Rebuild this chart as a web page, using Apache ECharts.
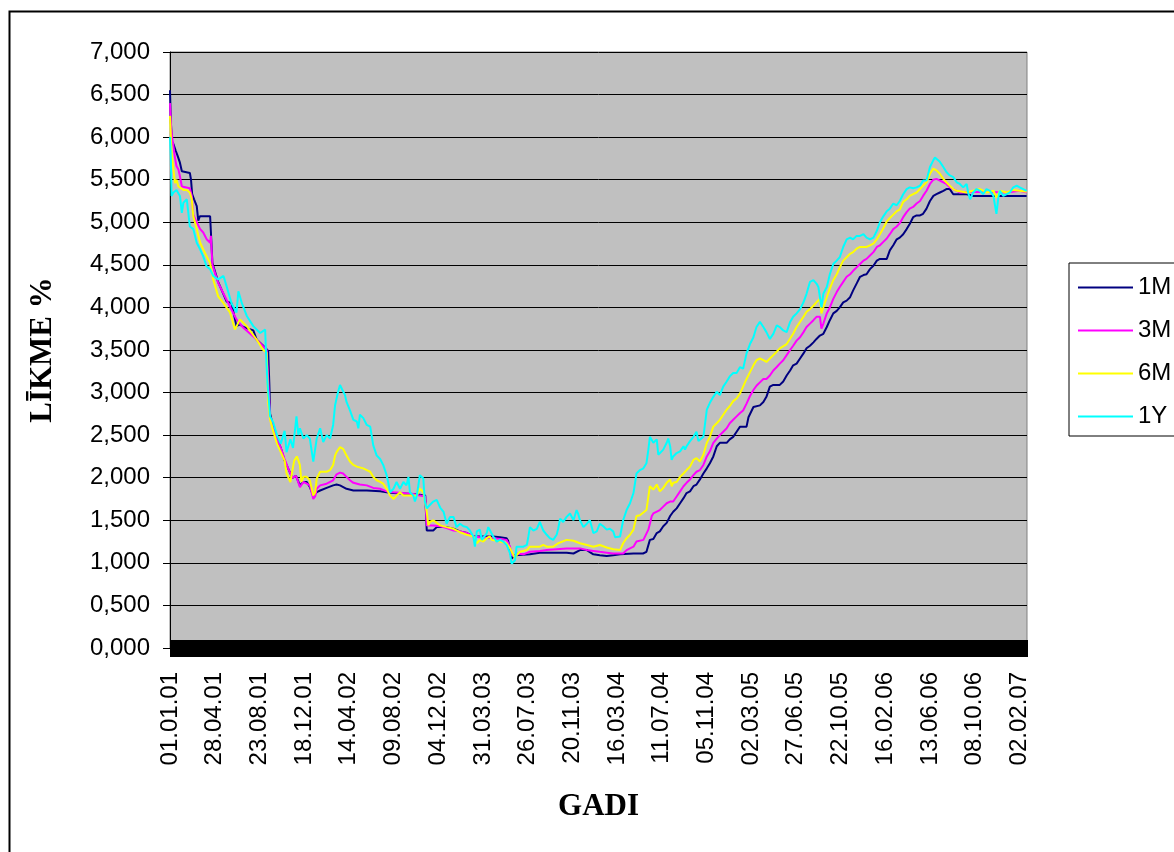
<!DOCTYPE html>
<html>
<head>
<meta charset="utf-8">
<script src="https://cdn.jsdelivr.net/npm/echarts@6/dist/echarts.min.js"></script>
<style>
  html, body { margin: 0; padding: 0; background: #fff; }
  #chart { width: 1174px; height: 852px; }
</style>
</head>
<body>
<div id="chart"></div>
<script>
// Money-market rates, % per year. Each point is [days since 01.01.2001, rate].
const rate1M = [[0,6.55],[2,6.20],[5,5.95],[9,5.92],[15,5.84],[20,5.78],[26,5.70],[31,5.60],[35,5.59],[52,5.58],[55,5.50],[58,5.33],[63,5.27],[70,5.19],[74,5.02],[78,5.07],[105,5.07],[108,4.80],[111,4.52],[126,4.30],[148,4.07],[161,4.05],[174,3.78],[183,3.80],[192,3.77],[218,3.73],[227,3.62],[244,3.55],[257,3.49],[260,3.10],[262,2.75],[270,2.60],[280,2.45],[290,2.35],[300,2.20],[310,2.10],[320,2.00],[330,2.02],[340,1.91],[349,1.95],[358,1.95],[366,1.89],[375,1.79],[384,1.83],[393,1.85],[410,1.88],[427,1.91],[436,1.92],[445,1.91],[462,1.87],[480,1.85],[515,1.85],[550,1.84],[567,1.83],[585,1.82],[637,1.81],[668,1.79],[672,1.38],[689,1.38],[698,1.42],[724,1.42],[742,1.40],[759,1.37],[777,1.35],[794,1.31],[846,1.31],[864,1.30],[881,1.29],[885,1.26],[890,1.15],[894,1.05],[903,1.09],[907,1.09],[942,1.10],[968,1.12],[1003,1.12],[1038,1.12],[1056,1.11],[1073,1.15],[1091,1.15],[1108,1.10],[1125,1.09],[1143,1.08],[1160,1.09],[1178,1.10],[1213,1.11],[1238,1.11],[1247,1.13],[1256,1.27],[1265,1.28],[1274,1.35],[1282,1.37],[1291,1.43],[1300,1.47],[1309,1.55],[1317,1.60],[1326,1.64],[1335,1.70],[1344,1.76],[1352,1.82],[1361,1.84],[1370,1.90],[1378,1.92],[1387,1.98],[1396,2.05],[1405,2.11],[1413,2.17],[1422,2.25],[1431,2.37],[1439,2.41],[1457,2.41],[1465,2.45],[1474,2.48],[1483,2.54],[1492,2.60],[1509,2.60],[1514,2.71],[1527,2.83],[1544,2.85],[1553,2.89],[1561,2.95],[1570,3.07],[1579,3.09],[1596,3.09],[1605,3.13],[1614,3.20],[1623,3.26],[1631,3.32],[1640,3.34],[1649,3.40],[1658,3.46],[1666,3.52],[1675,3.55],[1684,3.59],[1692,3.63],[1701,3.67],[1710,3.69],[1719,3.77],[1727,3.85],[1736,3.93],[1745,3.96],[1753,4.00],[1762,4.06],[1771,4.08],[1780,4.12],[1788,4.20],[1797,4.28],[1806,4.36],[1815,4.38],[1823,4.39],[1832,4.45],[1841,4.49],[1850,4.55],[1858,4.57],[1876,4.57],[1884,4.67],[1893,4.73],[1902,4.80],[1910,4.82],[1919,4.86],[1928,4.92],[1936,4.98],[1945,5.06],[1954,5.08],[1963,5.08],[1971,5.10],[1980,5.16],[1989,5.25],[1998,5.31],[2006,5.33],[2015,5.35],[2024,5.37],[2032,5.39],[2037,5.41],[2041,5.39],[2050,5.33],[2054,5.31],[2059,5.33],[2085,5.33],[2102,5.31],[2242,5.31]];

const rate3M = [[0,6.40],[3,6.10],[7,5.95],[13,5.76],[17,5.66],[22,5.62],[26,5.54],[31,5.42],[35,5.40],[52,5.40],[57,5.31],[61,5.09],[70,5.00],[79,4.92],[87,4.88],[96,4.80],[105,4.76],[107,4.84],[111,4.50],[126,4.29],[148,4.09],[174,3.86],[192,3.76],[218,3.66],[236,3.58],[253,3.50],[257,3.15],[262,2.70],[270,2.58],[280,2.45],[290,2.35],[300,2.22],[310,2.10],[320,2.00],[330,2.02],[340,1.89],[349,1.95],[358,1.93],[366,1.91],[375,1.75],[380,1.78],[384,1.87],[393,1.91],[410,1.93],[427,1.97],[436,2.04],[445,2.06],[453,2.05],[462,2.01],[471,1.97],[480,1.94],[497,1.92],[515,1.91],[532,1.88],[550,1.87],[567,1.84],[585,1.83],[637,1.81],[654,1.79],[668,1.78],[672,1.44],[689,1.44],[707,1.43],[724,1.41],[742,1.38],[759,1.37],[777,1.35],[794,1.31],[811,1.30],[846,1.29],[864,1.28],[881,1.27],[890,1.19],[894,1.09],[903,1.08],[907,1.11],[925,1.10],[942,1.13],[968,1.14],[986,1.15],[1012,1.16],[1038,1.17],[1073,1.17],[1091,1.15],[1108,1.14],[1125,1.13],[1143,1.12],[1160,1.11],[1186,1.11],[1195,1.15],[1213,1.19],[1221,1.25],[1239,1.27],[1252,1.39],[1261,1.55],[1265,1.58],[1282,1.62],[1291,1.66],[1300,1.70],[1309,1.72],[1317,1.72],[1326,1.78],[1335,1.84],[1344,1.90],[1352,1.94],[1361,1.98],[1370,2.03],[1378,2.07],[1387,2.09],[1396,2.15],[1405,2.25],[1413,2.31],[1422,2.41],[1431,2.46],[1439,2.50],[1448,2.54],[1457,2.58],[1465,2.64],[1474,2.68],[1483,2.72],[1492,2.76],[1500,2.79],[1509,2.87],[1518,2.96],[1527,3.03],[1535,3.08],[1544,3.12],[1553,3.16],[1561,3.16],[1570,3.20],[1579,3.26],[1588,3.30],[1596,3.34],[1605,3.38],[1614,3.44],[1623,3.50],[1631,3.55],[1640,3.61],[1649,3.65],[1658,3.71],[1666,3.77],[1675,3.81],[1684,3.85],[1692,3.89],[1701,3.89],[1705,3.75],[1710,3.81],[1719,3.93],[1727,4.00],[1736,4.10],[1745,4.18],[1753,4.24],[1762,4.30],[1771,4.36],[1780,4.39],[1788,4.43],[1797,4.47],[1806,4.51],[1815,4.55],[1823,4.57],[1832,4.61],[1841,4.65],[1850,4.71],[1858,4.73],[1867,4.77],[1876,4.81],[1884,4.86],[1893,4.92],[1902,4.95],[1910,4.99],[1919,5.06],[1928,5.12],[1936,5.16],[1945,5.18],[1954,5.22],[1963,5.25],[1971,5.31],[1980,5.37],[1989,5.45],[1998,5.50],[2006,5.51],[2015,5.49],[2024,5.47],[2032,5.45],[2041,5.41],[2050,5.39],[2059,5.37],[2067,5.35],[2120,5.36],[2190,5.35],[2224,5.37],[2242,5.35]];

const rate6M = [[0,6.25],[4,5.82],[9,5.62],[13,5.46],[17,5.50],[22,5.42],[35,5.38],[44,5.38],[52,5.35],[57,5.27],[61,5.07],[70,4.92],[79,4.76],[87,4.68],[96,4.60],[105,4.52],[113,4.33],[126,4.13],[140,4.05],[157,3.94],[170,3.74],[183,3.86],[201,3.78],[227,3.62],[244,3.50],[253,3.47],[257,2.88],[262,2.68],[270,2.55],[280,2.40],[290,2.30],[300,2.20],[305,2.05],[315,1.95],[325,2.20],[332,2.25],[340,2.15],[344,1.95],[349,2.01],[358,2.01],[366,1.97],[375,1.79],[380,1.83],[384,1.99],[393,2.07],[410,2.07],[419,2.09],[427,2.15],[432,2.26],[436,2.30],[445,2.36],[449,2.38],[453,2.34],[462,2.26],[471,2.19],[480,2.15],[489,2.13],[506,2.11],[515,2.09],[524,2.07],[532,2.01],[541,1.97],[550,1.95],[558,1.93],[567,1.87],[576,1.79],[585,1.75],[593,1.79],[602,1.83],[611,1.79],[646,1.79],[654,1.87],[663,1.83],[672,1.60],[676,1.44],[680,1.48],[689,1.50],[707,1.44],[724,1.42],[742,1.40],[759,1.36],[777,1.33],[794,1.31],[803,1.23],[811,1.27],[820,1.25],[829,1.29],[837,1.31],[842,1.27],[864,1.25],[881,1.23],[890,1.17],[899,1.09],[903,1.05],[907,1.09],[916,1.13],[934,1.15],[942,1.19],[968,1.19],[977,1.21],[986,1.19],[1003,1.19],[1016,1.23],[1021,1.25],[1038,1.27],[1056,1.26],[1073,1.23],[1091,1.21],[1108,1.19],[1125,1.21],[1143,1.18],[1160,1.16],[1178,1.15],[1186,1.23],[1195,1.29],[1204,1.33],[1213,1.39],[1221,1.55],[1230,1.56],[1247,1.62],[1256,1.90],[1265,1.86],[1274,1.92],[1282,1.84],[1291,1.88],[1300,1.94],[1309,1.98],[1313,1.90],[1317,1.94],[1326,1.95],[1335,2.01],[1344,2.05],[1352,2.09],[1361,2.13],[1370,2.21],[1378,2.23],[1387,2.19],[1396,2.27],[1405,2.41],[1413,2.48],[1422,2.60],[1431,2.64],[1439,2.68],[1448,2.74],[1457,2.80],[1465,2.84],[1474,2.90],[1483,2.93],[1492,2.99],[1500,3.07],[1509,3.16],[1518,3.24],[1527,3.32],[1535,3.38],[1544,3.40],[1553,3.38],[1561,3.36],[1570,3.40],[1579,3.44],[1588,3.48],[1596,3.52],[1614,3.57],[1631,3.69],[1640,3.77],[1649,3.83],[1658,3.89],[1666,3.95],[1675,3.98],[1684,4.02],[1692,4.06],[1701,4.10],[1705,3.93],[1710,4.00],[1719,4.12],[1727,4.22],[1736,4.32],[1745,4.39],[1753,4.47],[1762,4.55],[1771,4.59],[1780,4.63],[1788,4.65],[1797,4.69],[1806,4.71],[1823,4.71],[1832,4.73],[1841,4.75],[1850,4.80],[1858,4.86],[1867,4.93],[1876,5.01],[1884,5.05],[1893,5.09],[1902,5.13],[1910,5.15],[1919,5.24],[1928,5.27],[1936,5.31],[1945,5.33],[1954,5.35],[1963,5.39],[1971,5.43],[1980,5.47],[1989,5.57],[1998,5.63],[2006,5.61],[2015,5.57],[2024,5.51],[2032,5.47],[2041,5.43],[2050,5.39],[2059,5.37],[2085,5.35],[2102,5.37],[2120,5.39],[2137,5.35],[2155,5.37],[2163,5.29],[2172,5.37],[2190,5.35],[2207,5.38],[2224,5.37],[2242,5.36]];

const rate1Y = [[0,6.00],[2,5.78],[4,5.31],[9,5.35],[17,5.38],[26,5.31],[31,5.11],[35,5.23],[44,5.27],[52,4.95],[61,4.92],[70,4.76],[79,4.68],[87,4.60],[96,4.48],[105,4.45],[113,4.37],[126,4.33],[140,4.37],[148,4.25],[161,4.05],[174,3.94],[179,4.19],[188,4.05],[201,3.90],[218,3.78],[236,3.70],[249,3.74],[251,3.50],[255,3.12],[262,2.72],[270,2.65],[280,2.50],[290,2.40],[300,2.55],[305,2.30],[315,2.45],[322,2.35],[331,2.72],[336,2.50],[340,2.58],[349,2.46],[358,2.50],[366,2.46],[375,2.19],[380,2.17],[384,2.46],[393,2.58],[397,2.56],[401,2.42],[410,2.50],[419,2.46],[427,2.62],[432,2.85],[436,2.93],[440,3.01],[445,3.09],[449,3.05],[453,3.07],[458,2.97],[462,2.89],[471,2.79],[480,2.68],[489,2.66],[493,2.58],[497,2.74],[506,2.70],[515,2.62],[524,2.60],[532,2.38],[541,2.26],[550,2.22],[558,2.15],[567,2.03],[571,1.95],[576,1.83],[585,1.87],[593,1.95],[602,1.87],[611,1.95],[619,1.91],[624,2.01],[628,1.83],[637,1.79],[641,1.72],[646,1.79],[654,2.03],[663,1.99],[667,1.72],[672,1.64],[680,1.68],[689,1.72],[698,1.74],[707,1.65],[716,1.60],[724,1.46],[733,1.54],[742,1.54],[750,1.42],[759,1.46],[768,1.43],[777,1.42],[785,1.38],[794,1.31],[798,1.19],[803,1.37],[811,1.39],[816,1.27],[820,1.29],[829,1.35],[833,1.42],[837,1.41],[846,1.31],[855,1.25],[864,1.27],[872,1.25],[881,1.21],[890,1.11],[894,0.99],[899,0.97],[903,1.03],[907,1.19],[925,1.19],[934,1.21],[938,1.31],[942,1.42],[951,1.38],[960,1.40],[968,1.48],[977,1.38],[986,1.33],[994,1.29],[1003,1.27],[1012,1.33],[1016,1.40],[1021,1.52],[1029,1.48],[1038,1.54],[1047,1.58],[1056,1.50],[1060,1.56],[1064,1.62],[1068,1.58],[1073,1.50],[1082,1.42],[1091,1.46],[1099,1.50],[1108,1.35],[1117,1.37],[1125,1.46],[1134,1.43],[1143,1.39],[1151,1.40],[1160,1.37],[1165,1.30],[1178,1.31],[1182,1.33],[1186,1.50],[1195,1.62],[1204,1.70],[1213,1.82],[1221,2.05],[1230,2.09],[1239,2.11],[1247,2.17],[1252,2.33],[1256,2.48],[1265,2.41],[1274,2.45],[1278,2.27],[1282,2.25],[1291,2.33],[1300,2.41],[1304,2.46],[1309,2.37],[1313,2.21],[1317,2.25],[1326,2.29],[1335,2.31],[1344,2.37],[1348,2.33],[1352,2.37],[1361,2.43],[1370,2.48],[1378,2.54],[1383,2.43],[1387,2.43],[1396,2.48],[1405,2.80],[1413,2.88],[1422,2.95],[1431,3.01],[1439,2.97],[1448,3.07],[1457,3.13],[1465,3.19],[1474,3.23],[1483,3.23],[1492,3.30],[1500,3.28],[1509,3.46],[1518,3.57],[1527,3.65],[1535,3.77],[1544,3.83],[1549,3.85],[1553,3.77],[1561,3.71],[1570,3.63],[1579,3.69],[1588,3.79],[1596,3.77],[1605,3.73],[1614,3.71],[1623,3.83],[1631,3.89],[1640,3.93],[1649,3.98],[1658,4.06],[1666,4.16],[1675,4.30],[1684,4.32],[1692,4.28],[1697,4.24],[1701,4.12],[1705,4.00],[1710,4.16],[1719,4.24],[1727,4.39],[1736,4.51],[1745,4.55],[1753,4.59],[1762,4.71],[1771,4.80],[1780,4.82],[1788,4.80],[1797,4.84],[1806,4.84],[1815,4.86],[1823,4.82],[1832,4.80],[1841,4.82],[1850,4.90],[1858,5.00],[1867,5.07],[1876,5.13],[1884,5.16],[1893,5.22],[1902,5.20],[1910,5.25],[1919,5.33],[1928,5.39],[1936,5.41],[1945,5.40],[1954,5.41],[1963,5.43],[1971,5.49],[1980,5.49],[1989,5.65],[1998,5.73],[2002,5.76],[2006,5.75],[2015,5.71],[2024,5.65],[2032,5.59],[2041,5.55],[2050,5.53],[2059,5.47],[2067,5.45],[2076,5.41],[2085,5.45],[2089,5.35],[2094,5.27],[2102,5.35],[2111,5.39],[2120,5.37],[2128,5.33],[2137,5.39],[2146,5.37],[2155,5.31],[2163,5.10],[2168,5.29],[2172,5.37],[2181,5.31],[2190,5.33],[2198,5.35],[2207,5.41],[2216,5.43],[2224,5.41],[2233,5.39],[2242,5.37]];

const seriesNames = ['1M', '3M', '6M', '1Y'];
const seriesColors = ['#000080', '#FF00FF', '#FFFF00', '#00FFFF'];
const seriesData = [rate1M, rate3M, rate6M, rate1Y];

// Daily date axis: 01.01.2001 .. 20.02.2007, a date label every 117 days,
// a tick mark on every day.
const FIRST_DAY = Date.UTC(2001, 0, 1);
const DAY_COUNT = 2243;
const LABEL_STEP = 117;

const yTitle = 'LĪKME %';
const xTitle = 'GADI';

function dateLabel(day) {
  const t = new Date(FIRST_DAY + day * 86400000);
  const p = n => String(n).padStart(2, '0');
  return p(t.getUTCDate()) + '.' + p(t.getUTCMonth() + 1) + '.' + p(t.getUTCFullYear() % 100);
}

const sans = 'Arial, "Liberation Sans", sans-serif';
const serif = '"Times New Roman", "Liberation Serif", serif';

const chart = echarts.init(document.getElementById('chart'), null, { renderer: 'canvas' });

// Extra axes that only carry the daily tick marks, crossing the axis line.
function dailyTickAxis(inside, length) {
  return {
    type: 'value',
    position: 'bottom',
    min: 0,
    max: DAY_COUNT,
    interval: 1,
    axisLine: { show: false },
    axisTick: { show: true, inside: inside, length: length, lineStyle: { color: '#000', width: 1 } },
    axisLabel: { show: false },
    splitLine: { show: false }
  };
}

chart.setOption({
  animation: false,
  backgroundColor: '#ffffff',
  textStyle: { fontFamily: sans },
  graphic: [{
    type: 'rect',
    left: 7, top: 9,
    shape: { width: 1300, height: 1000 },
    style: { fill: 'none', stroke: '#000', lineWidth: 2 },
    silent: true,
    z: -1
  }],
  grid: {
    left: 170, top: 52, width: 857, height: 596,
    show: true,
    backgroundColor: '#C0C0C0',
    borderColor: '#808080',
    borderWidth: 1
  },
  legend: {
    orient: 'vertical',
    left: 1069, top: 263,
    padding: [11, 40, 6, 9],
    itemWidth: 55, itemHeight: 2, itemGap: 16,
    icon: 'rect',
    selectedMode: false,
    backgroundColor: '#ffffff',
    borderColor: '#000000',
    borderWidth: 1,
    textStyle: { fontFamily: sans, fontSize: 24, color: '#000', lineHeight: 27 },
    data: seriesNames
  },
  xAxis: [
    {
      type: 'value',
      min: 0,
      max: DAY_COUNT,
      interval: LABEL_STEP,
      name: xTitle,
      nameLocation: 'middle',
      nameGap: 143,
      nameTextStyle: { fontFamily: serif, fontSize: 31, fontWeight: 'bold', color: '#000' },
      axisLine: { show: true, lineStyle: { color: '#000', width: 1 } },
      axisTick: { show: true, inside: false, length: 9, lineStyle: { color: '#000', width: 1 } },
      axisLabel: {
        rotate: 90,
        margin: 24,
        fontFamily: sans,
        fontSize: 24,
        color: '#000',
        showMaxLabel: false,
        formatter: v => (v % LABEL_STEP === 0 ? dateLabel(v) : '')
      },
      splitLine: { show: false }
    },
    dailyTickAxis(false, 9),
    dailyTickAxis(true, 8)
  ],
  yAxis: {
    type: 'value',
    min: 0, max: 7, interval: 0.5,
    name: yTitle,
    nameLocation: 'middle',
    nameRotate: 90,
    nameGap: 112,
    nameTextStyle: { fontFamily: serif, fontSize: 31, fontWeight: 'bold', color: '#000' },
    axisLine: { show: true, lineStyle: { color: '#000', width: 1 } },
    axisTick: { show: true, inside: false, length: 7, lineStyle: { color: '#000', width: 1 } },
    axisLabel: {
      margin: 20,
      fontFamily: sans,
      fontSize: 24,
      color: '#000',
      formatter: v => v.toFixed(3).replace('.', ',')
    },
    splitLine: { show: true, lineStyle: { color: '#000', width: 1 } }
  },
  series: seriesNames.map((name, i) => ({
    name,
    type: 'line',
    xAxisIndex: 0,
    data: seriesData[i],
    showSymbol: false,
    symbol: 'none',
    color: seriesColors[i],
    lineStyle: { color: seriesColors[i], width: 2 },
    emphasis: { disabled: true }
  }))
});
</script>
</body>
</html>
